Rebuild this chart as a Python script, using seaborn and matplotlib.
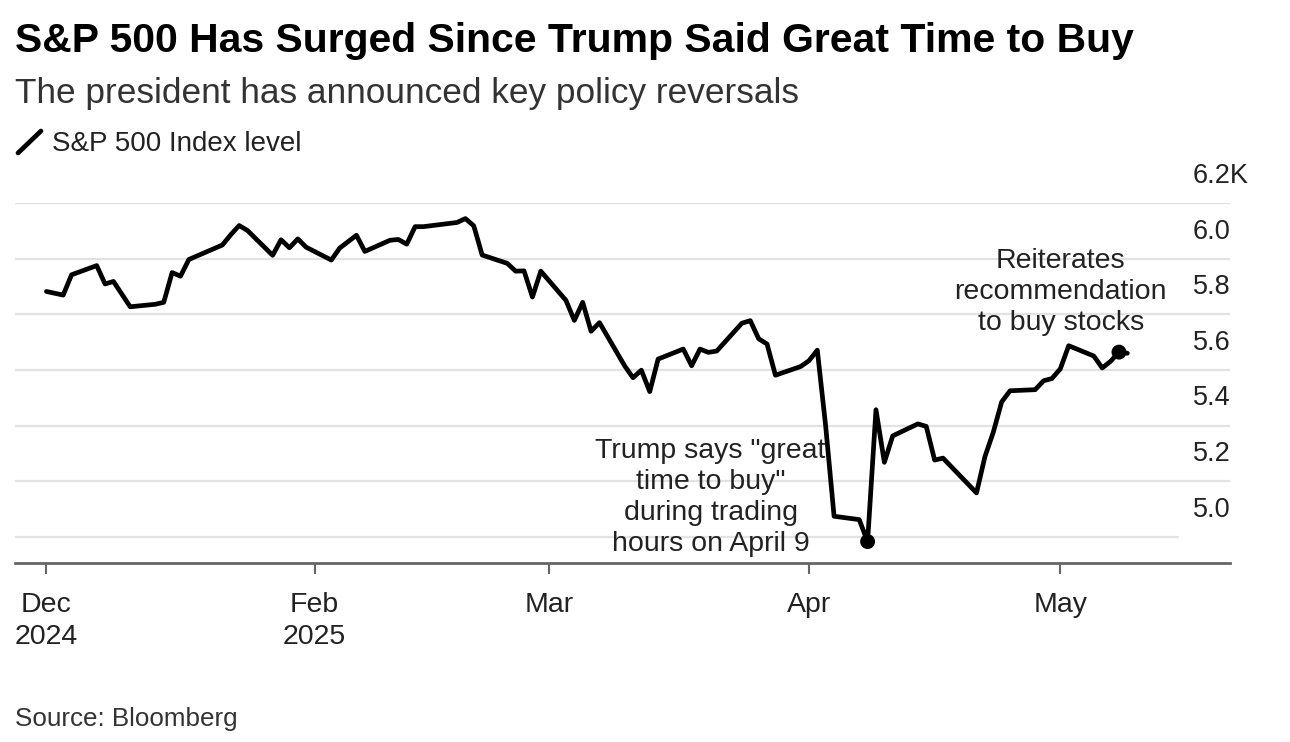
import numpy as np
import pandas as pd
import matplotlib
matplotlib.use("Agg")
import matplotlib.pyplot as plt
from matplotlib.lines import Line2D
import seaborn as sns

# ---------------- data ----------------
dates = [
    "2024-12-31", "2025-01-02", "2025-01-03", "2025-01-06", "2025-01-07", "2025-01-08",
    "2025-01-10", "2025-01-13", "2025-01-14", "2025-01-15", "2025-01-16", "2025-01-17",
    "2025-01-21", "2025-01-22", "2025-01-23", "2025-01-24", "2025-01-27", "2025-01-28",
    "2025-01-29", "2025-01-30", "2025-01-31", "2025-02-03", "2025-02-04", "2025-02-05",
    "2025-02-06", "2025-02-07", "2025-02-10", "2025-02-11", "2025-02-12", "2025-02-13",
    "2025-02-14", "2025-02-18", "2025-02-19", "2025-02-20", "2025-02-21", "2025-02-24",
    "2025-02-25", "2025-02-26", "2025-02-27", "2025-02-28", "2025-03-03", "2025-03-04",
    "2025-03-05", "2025-03-06", "2025-03-07", "2025-03-10", "2025-03-11", "2025-03-12",
    "2025-03-13", "2025-03-14", "2025-03-17", "2025-03-18", "2025-03-19", "2025-03-20",
    "2025-03-21", "2025-03-24", "2025-03-25", "2025-03-26", "2025-03-27", "2025-03-28",
    "2025-03-31", "2025-04-01", "2025-04-02", "2025-04-03", "2025-04-04", "2025-04-07",
    "2025-04-08", "2025-04-09", "2025-04-10", "2025-04-11", "2025-04-14", "2025-04-15",
    "2025-04-16", "2025-04-17", "2025-04-21", "2025-04-22", "2025-04-23", "2025-04-24",
    "2025-04-25", "2025-04-28", "2025-04-29", "2025-04-30", "2025-05-01", "2025-05-02",
    "2025-05-05", "2025-05-06", "2025-05-07", "2025-05-08", "2025-05-09",
]
closes = [
    5882, 5869, 5942, 5975, 5909, 5918,
    5827, 5836, 5843, 5950, 5937, 5997,
    6049, 6086, 6119, 6101, 6012, 6068,
    6039, 6071, 6041, 5995, 6038, 6061,
    6084, 6026, 6066, 6069, 6052, 6115,
    6115, 6130, 6144, 6118, 6013, 5983,
    5955, 5956, 5862, 5955, 5850, 5778,
    5843, 5739, 5770, 5615, 5572, 5599,
    5522, 5639, 5675, 5615, 5675, 5663,
    5668, 5768, 5777, 5712, 5693, 5581,
    5612, 5633, 5671, 5397, 5074, 5062,
    4983, 5457, 5268, 5363, 5406, 5397,
    5276, 5283, 5158, 5288, 5376, 5485,
    5525, 5529, 5561, 5569, 5604, 5687,
    5650, 5607, 5631, 5664, 5660,
]

x_tick_dates = ["2024-12-31", "2025-02-01", "2025-03-01", "2025-04-01", "2025-05-01"]
x_tick_labels = ["Dec\n2024", "Feb\n2025", "Mar", "Apr", "May"]
y_ticks = [5000, 5200, 5400, 5600, 5800, 6000, 6200]
y_tick_labels = ["5.0", "5.2", "5.4", "5.6", "5.8", "6.0", "6.2K"]

highlight_dates = ["2025-04-08", "2025-05-08"]
highlight_texts = [
    'Trump says "great\ntime to buy"\nduring trading\nhours on April 9',
    "Reiterates\nrecommendation\nto buy stocks",
]

title = "S&P 500 Has Surged Since Trump Said Great Time to Buy"
subtitle = "The president has announced key policy reversals"
legend_label = "S&P 500 Index level"
source = "Source: Bloomberg"

# ---------------- style ----------------
sns.set_theme(style="white")
plt.rcParams["font.family"] = ["Liberation Sans", "DejaVu Sans"]

W, H = 1290, 742
fig = plt.figure(figsize=(W / 100, H / 100), dpi=100)
fig.patch.set_facecolor("white")

ax_left, ax_right, ax_top, ax_bottom = 15, 1230, 203, 563
ax = fig.add_axes([ax_left / W, 1 - ax_bottom / H, (ax_right - ax_left) / W, (ax_bottom - ax_top) / H])
ax.set_facecolor("white")

df = pd.DataFrame({"date": pd.to_datetime(dates), "close": closes})

# gridlines
for v in y_ticks:
    xmax = 0.957 if v == y_ticks[0] else 1.0
    ax.axhline(v, xmin=0, xmax=xmax, color="#e2e2e2", lw=1.6, zorder=1)

sns.lineplot(data=df, x="date", y="close", ax=ax, color="black", lw=3.4,
             zorder=3, legend=False)
hl = df[df["date"].isin(pd.to_datetime(highlight_dates))]
sns.scatterplot(data=hl, x="date", y="close", ax=ax, color="black", s=115,
                zorder=4, edgecolor="none", legend=False)

ax.set_xlim(pd.Timestamp("2024-12-27 06:00"), pd.Timestamp("2025-05-21 06:00"))
ax.set_ylim(4906, 6200)

for s in ["top", "left", "right"]:
    ax.spines[s].set_visible(False)
ax.spines["bottom"].set_color("#666666")
ax.spines["bottom"].set_linewidth(2.0)

ax.set_xticks(pd.to_datetime(x_tick_dates))
ax.set_xticklabels(x_tick_labels, linespacing=1.3)
ax.tick_params(axis="x", bottom=True, length=8, width=1.5, color="#666666",
               pad=13, labelsize=20.5, labelcolor="#222222", direction="out")
ax.set_yticks([])
ax.set_xlabel("")
ax.set_ylabel("")

# y labels above gridlines
for v, lab in zip(y_ticks, y_tick_labels):
    ax.annotate(lab, xy=(0.9696, v), xycoords=("axes fraction", "data"),
                xytext=(0, 19.5), textcoords="offset points", ha="left",
                va="center", fontsize=19.5, color="#222222", annotation_clip=False)

# annotations
offsets = [(-113, 32), (-42, 43)]
for (_, row), txt, off in zip(hl.iterrows(), highlight_texts, offsets):
    ax.annotate(txt, xy=(row["date"], row["close"]), xytext=off,
                textcoords="offset points", ha="center", va="center",
                fontsize=20.5, color="#222222", linespacing=1.25,
                multialignment="center", zorder=2)

# header
fig.text(15 / W, 1 - 41 / H, title, fontsize=29.4, fontweight="bold",
         color="black", ha="left", va="center")
fig.text(15 / W, 1 - 93 / H, subtitle, fontsize=25.4, color="#333333",
         ha="left", va="center")
fig.add_artist(Line2D([18 / W, 41 / W], [1 - 153 / H, 1 - 131 / H],
                      transform=fig.transFigure, color="black", lw=3.4,
                      solid_capstyle="round"))
fig.text(52 / W, 1 - 144 / H, legend_label, fontsize=20, color="#222222",
         ha="left", va="center")
fig.text(15 / W, 1 - 719 / H, source, fontsize=18.7, color="#333333",
         ha="left", va="center")

fig.savefig("out.png", dpi=100, facecolor="white")
